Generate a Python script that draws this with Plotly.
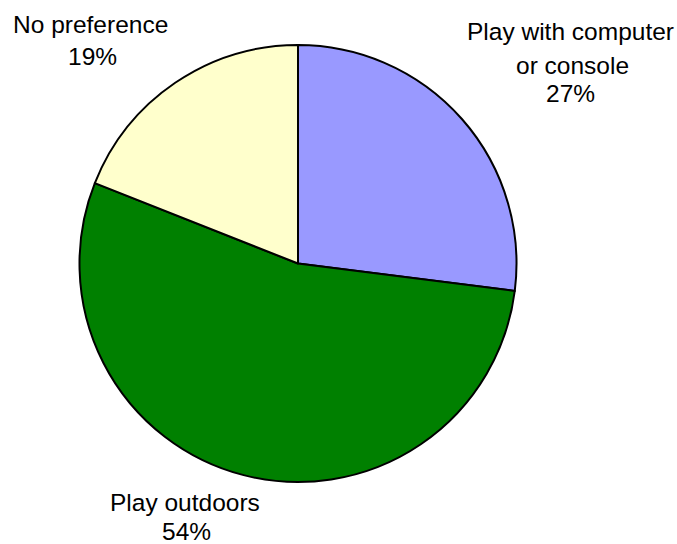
import plotly.graph_objects as go

categories = ["Play with computer or console", "Play outdoors", "No preference"]
values = [27, 54, 19]
colors = ["#9999FF", "#008000", "#FFFFCC"]
label_lines = [["Play with computer", "or console", "27%"],
               ["Play outdoors", "54%"],
               ["No preference", "19%"]]

W, H = 677, 544
cx, cy, r = 298, 263.5, 218.5

fig = go.Figure(go.Pie(
    labels=categories, values=values, sort=False, direction="clockwise", rotation=0,
    marker=dict(colors=colors, line=dict(color="#000000", width=2)),
    textinfo="none", hoverinfo="label+percent", showlegend=False,
    domain=dict(x=[(cx - r) / W, (cx + r) / W], y=[1 - (cy + r) / H, 1 - (cy - r) / H]),
))

# label line positions in pixels (center x, center y)
label_pos = [[(570.5, 31), (572.5, 65), (570, 93.5)],
             [(185, 502), (186, 531.5)],
             [(90.5, 25), (92.5, 56.5)]]

annotations = []
for lines, poss in zip(label_lines, label_pos):
    for txt, (px, py) in zip(lines, poss):
        annotations.append(dict(
            text=txt, x=px / W, y=1 - py / H, xref="paper", yref="paper",
            xanchor="center", yanchor="middle", showarrow=False,
            font=dict(family="Liberation Sans, Arial, sans-serif", size=24.5, color="#000000"),
        ))

fig.update_layout(
    width=W, height=H, margin=dict(l=0, r=0, t=0, b=0),
    paper_bgcolor="#FFFFFF", plot_bgcolor="#FFFFFF",
    annotations=annotations,
)
fig.write_html("out.html", config={"displayModeBar": False},
               post_script="document.body.style.margin='0';document.body.style.overflow='hidden';")
